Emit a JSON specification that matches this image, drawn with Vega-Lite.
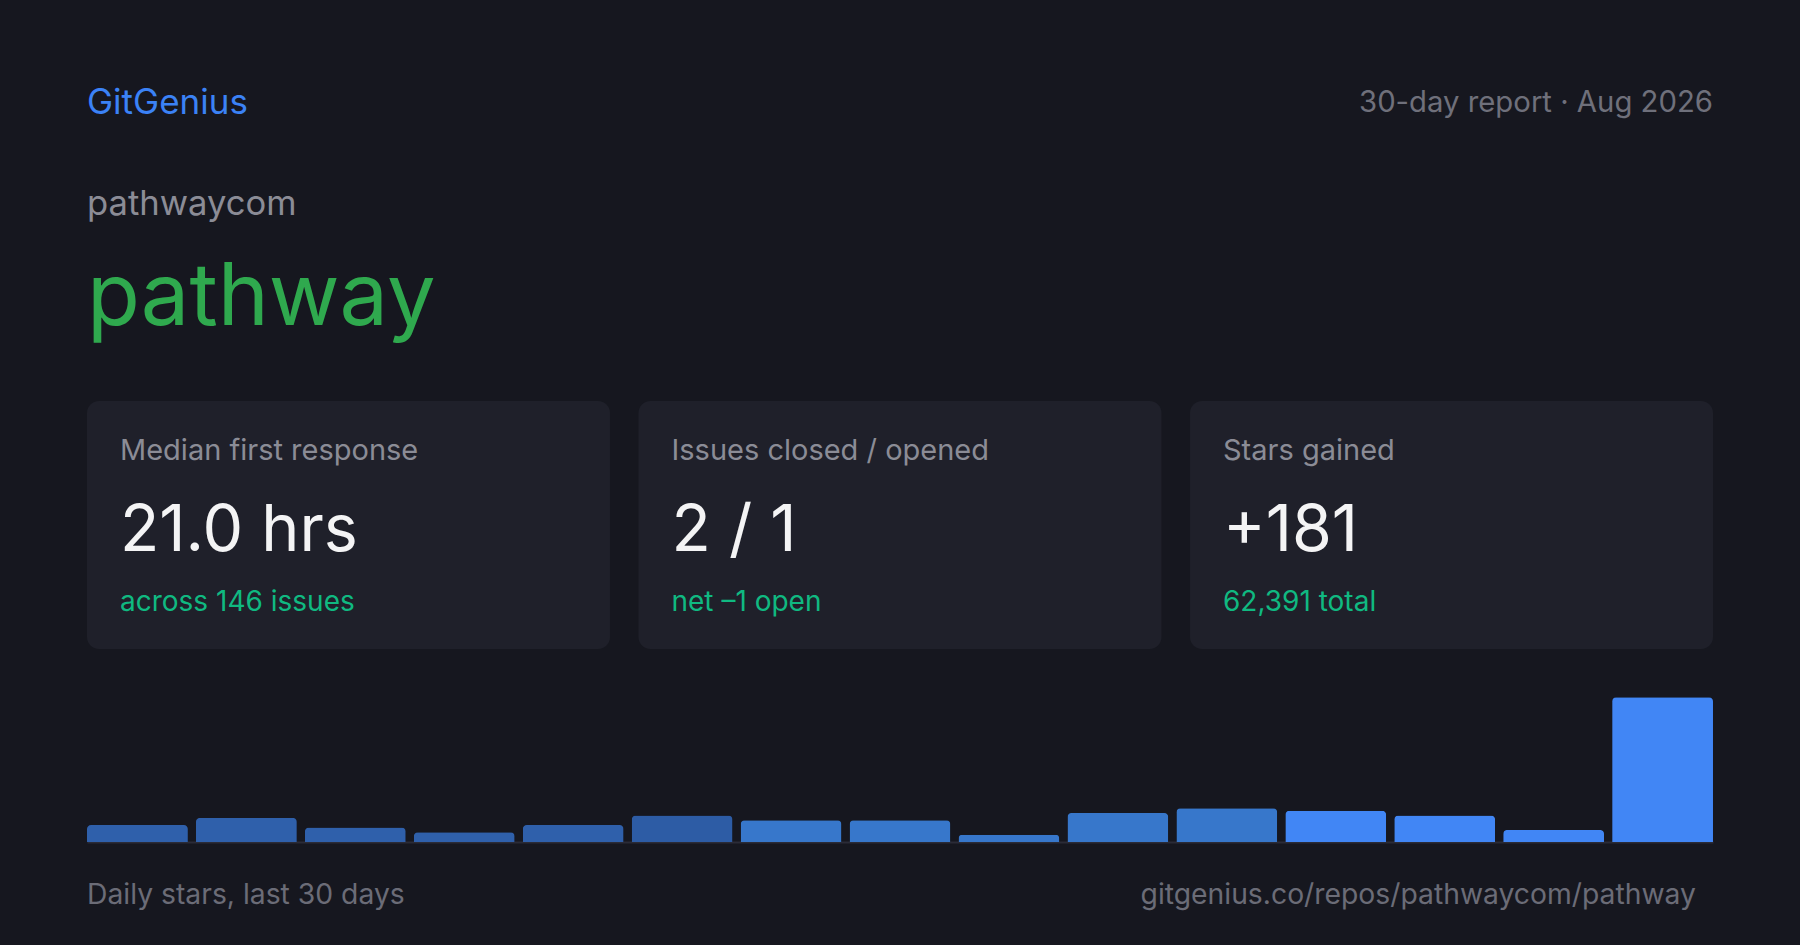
{
  "$schema": "https://vega.github.io/schema/vega-lite/v6.json",
  "description": "GitGenius 30-day report card for pathwaycom/pathway: headline numbers and daily stars.",
  "background": "#16171F",
  "padding": {"left": 87, "right": 87, "top": 0, "bottom": 0},
  "bounds": "flush",
  "spacing": 0,
  "config": {
    "font": "Inter",
    "view": {"stroke": null}
  },
  "vconcat": [
    {
      "width": 1626,
      "height": 401,
      "data": {
        "values": [
          {"brand": "GitGenius", "period": "30-day report · Aug 2026", "owner": "pathwaycom", "repo": "pathway"}
        ]
      },
      "encoding": {
        "x": {
          "datum": "start",
          "type": "nominal",
          "scale": {"type": "point", "domain": ["start", "end"], "padding": 0},
          "axis": null
        }
      },
      "layer": [
        {
          "mark": {"type": "text", "align": "left", "baseline": "alphabetic", "fontSize": 35, "color": "#3B82F6"},
          "encoding": {
            "y": {
              "datum": "brand",
              "type": "nominal",
              "bandPosition": 0.853,
              "scale": {"type": "band", "domain": ["brand", "owner", "repo"], "paddingInner": 0, "paddingOuter": 0},
              "axis": null
            },
            "text": {"field": "brand"}
          }
        },
        {
          "mark": {"type": "text", "align": "right", "baseline": "alphabetic", "fontSize": 29.3, "color": "#6F707B"},
          "encoding": {
            "x": {"datum": "end", "type": "nominal"},
            "y": {"datum": "brand", "type": "nominal", "bandPosition": 0.838},
            "text": {"field": "period"}
          }
        },
        {
          "mark": {"type": "text", "align": "left", "baseline": "alphabetic", "fontSize": 34.6, "color": "#8B8C96"},
          "encoding": {
            "y": {"datum": "owner", "type": "nominal", "bandPosition": 0.608},
            "text": {"field": "owner"}
          }
        },
        {
          "mark": {"type": "text", "align": "left", "baseline": "alphabetic", "fontSize": 86.5, "color": "#2FA94E"},
          "encoding": {
            "y": {"datum": "repo", "type": "nominal", "bandPosition": 0.431},
            "text": {"field": "repo"}
          }
        }
      ]
    },
    {
      "width": 1626,
      "height": 248,
      "data": {
        "values": [
          {"card": "Median first response", "value": "21.0 hrs", "note": "across 146 issues"},
          {"card": "Issues closed / opened", "value": "2 / 1", "note": "net –1 open"},
          {"card": "Stars gained", "value": "+181", "note": "62,391 total"}
        ]
      },
      "encoding": {
        "x": {
          "field": "card",
          "type": "nominal",
          "sort": null,
          "scale": {"paddingInner": 0.0517, "paddingOuter": 0},
          "axis": null
        }
      },
      "layer": [
        {
          "mark": {"type": "bar", "color": "#1F202A", "cornerRadius": 12}
        },
        {
          "mark": {"type": "text", "align": "left", "baseline": "alphabetic", "dx": 33, "fontSize": 29, "color": "#8B8C96"},
          "encoding": {
            "x": {"field": "card", "type": "nominal", "sort": null, "bandPosition": 0},
            "y": {
              "datum": "label",
              "type": "nominal",
              "bandPosition": 0.719,
              "scale": {"type": "band", "domain": ["label", "value", "note"], "paddingInner": 0, "paddingOuter": 0},
              "axis": null
            },
            "text": {"field": "card"}
          }
        },
        {
          "mark": {"type": "text", "align": "left", "baseline": "alphabetic", "dx": 33, "fontSize": 64.5, "color": "#F4F4F5"},
          "encoding": {
            "x": {"field": "card", "type": "nominal", "sort": null, "bandPosition": 0},
            "y": {"datum": "value", "type": "nominal", "bandPosition": 0.814},
            "text": {"field": "value"}
          }
        },
        {
          "mark": {"type": "text", "align": "left", "baseline": "alphabetic", "dx": 33, "fontSize": 28, "color": "#10B981"},
          "encoding": {
            "x": {"field": "card", "type": "nominal", "sort": null, "bandPosition": 0},
            "y": {"datum": "note", "type": "nominal", "bandPosition": 0.54},
            "text": {"field": "note"}
          }
        }
      ]
    },
    {
      "width": 1626,
      "height": 193,
      "data": {
        "values": [
          {"bucket": 1, "stars": 7},
          {"bucket": 2, "stars": 10},
          {"bucket": 3, "stars": 6},
          {"bucket": 4, "stars": 4},
          {"bucket": 5, "stars": 7},
          {"bucket": 6, "stars": 11},
          {"bucket": 7, "stars": 9},
          {"bucket": 8, "stars": 9},
          {"bucket": 9, "stars": 3},
          {"bucket": 10, "stars": 12},
          {"bucket": 11, "stars": 14},
          {"bucket": 12, "stars": 13},
          {"bucket": 13, "stars": 11},
          {"bucket": 14, "stars": 5},
          {"bucket": 15, "stars": 60}
        ]
      },
      "mark": {"type": "bar", "cornerRadiusTopLeft": 4, "cornerRadiusTopRight": 4},
      "encoding": {
        "x": {
          "field": "bucket",
          "type": "ordinal",
          "scale": {"paddingInner": 0.074, "paddingOuter": 0},
          "axis": {
            "title": null,
            "labels": false,
            "ticks": false,
            "grid": false,
            "domainColor": "#2A2B37",
            "domainWidth": 2
          }
        },
        "y": {
          "field": "stars",
          "type": "quantitative",
          "scale": {"domain": [0, 80], "nice": false},
          "axis": null
        },
        "color": {
          "field": "bucket",
          "type": "quantitative",
          "scale": {
            "type": "threshold",
            "domain": [6, 7, 12],
            "range": ["#2F60AB", "#2D5CA5", "#3777CB", "#4186F5"]
          },
          "legend": null
        }
      }
    },
    {
      "width": 1626,
      "height": 103,
      "data": {
        "values": [
          {"caption": "Daily stars, last 30 days", "link": "gitgenius.co/repos/pathwaycom/pathway"}
        ]
      },
      "encoding": {
        "y": {
          "datum": "footer",
          "type": "nominal",
          "bandPosition": 0.602,
          "scale": {"type": "band", "domain": ["footer"], "paddingInner": 0, "paddingOuter": 0},
          "axis": null
        }
      },
      "layer": [
        {
          "mark": {"type": "text", "align": "left", "baseline": "alphabetic", "fontSize": 28.3, "color": "#6B6C77"},
          "encoding": {
            "x": {
              "datum": "start",
              "type": "nominal",
              "scale": {"type": "point", "domain": ["start", "end"], "padding": 0},
              "axis": null
            },
            "text": {"field": "caption"}
          }
        },
        {
          "mark": {"type": "text", "align": "right", "baseline": "alphabetic", "dx": -17, "fontSize": 28.3, "color": "#6B6C77"},
          "encoding": {
            "x": {"datum": "end", "type": "nominal"},
            "text": {"field": "link"}
          }
        }
      ]
    }
  ]
}
